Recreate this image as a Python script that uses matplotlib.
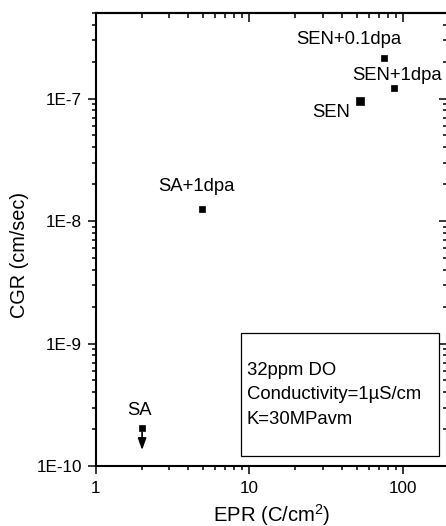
import numpy as np
import matplotlib
matplotlib.use("Agg")
import matplotlib.pyplot as plt
from matplotlib.ticker import LogLocator, FuncFormatter, NullFormatter
from matplotlib.patches import Rectangle

plt.rcParams['font.family'] = ['Liberation Sans', 'DejaVu Sans']
plt.rcParams['mathtext.fontset'] = 'custom'
plt.rcParams['mathtext.rm'] = 'Liberation Sans'

# data
labels = ["SA", "SA+1dpa", "SEN", "SEN+0.1dpa", "SEN+1dpa"]
epr = [2.01, 4.96, 52.3, 75.5, 87.8]          # C/cm^2
cgr = [2.04e-10, 1.245e-8, 9.6e-8, 2.14e-7, 1.23e-7]  # cm/sec
upper_limit = [True, False, False, False, False]

# label placement relative to each point (pixels)
label_offsets = [(-2.5, 18), (-6, 23), (-28, -11.5), (-35, 19), (3, 12)]
marker_sizes = [5, 5, 6.3, 5, 5]

W, H = 446, 526
fig = plt.figure(figsize=(W / 100, H / 100), dpi=100)

# axes box in pixels (right spine sits just past the image edge)
left, right, top, bottom = 95.5, 447.5, 13, 466
ax = fig.add_axes([left / W, 1 - bottom / H, (right - left) / W, (bottom - top) / H])
ax.set_xscale('log')
ax.set_yscale('log')
ax.set_xlim(1, 195)
ax.set_ylim(1e-10, 5e-7)

for x, y, ms in zip(epr, cgr, marker_sizes):
    ax.plot(x, y, 's', color='black', ms=ms, mec='black', mew=0.5, zorder=5)

for x, y, lab, (dx, dy), lim in zip(epr, cgr, labels, label_offsets, upper_limit):
    ax.annotate(lab, xy=(x, y), xytext=(dx, dy), textcoords='offset pixels',
                ha='center', va='center', fontsize=13.3)
    if lim:
        ax.annotate('', xy=(x, y), xytext=(0, -22), textcoords='offset pixels',
                    arrowprops=dict(arrowstyle='<|-,head_length=0.7,head_width=0.25',
                                    color='black', lw=1.2, shrinkA=0, shrinkB=3))

# condition box
ax.add_patch(Rectangle((0.412, 0.022), 0.563, 0.272, transform=ax.transAxes,
                       fill=False, edgecolor='black', lw=0.9, zorder=4))
ax.text(0.429, 0.157, "32ppm DO\nConductivity=1\u00b5S/cm\nK=30MPavm",
        transform=ax.transAxes, ha='left', va='center', fontsize=13.3,
        linespacing=1.55)

# ticks: outward on bottom/left, inward mirrored on top/right
for a in (ax.xaxis, ax.yaxis):
    a.set_major_locator(LogLocator(base=10))
    a.set_minor_locator(LogLocator(base=10, subs=np.arange(2, 10)))
    a.set_minor_formatter(NullFormatter())
ax.xaxis.set_major_formatter(FuncFormatter(lambda v, p: f"{v:g}"))
ax.yaxis.set_major_formatter(FuncFormatter(lambda v, p: f"1E{int(round(np.log10(v)))}"))
ax.tick_params(which='both', direction='out', width=1.1, labelsize=12.3, top=False, right=False)
ax.tick_params(which='major', length=5.8, pad=4)
ax.tick_params(axis='x', which='major', pad=5)
ax.tick_params(which='minor', length=3)

sec_x = ax.secondary_xaxis('top')
sec_y = ax.secondary_yaxis('right')
for s, a in ((sec_x, sec_x.xaxis), (sec_y, sec_y.yaxis)):
    a.set_major_locator(LogLocator(base=10))
    a.set_minor_locator(LogLocator(base=10, subs=np.arange(2, 10)))
    a.set_major_formatter(NullFormatter())
    a.set_minor_formatter(NullFormatter())
    s.tick_params(which='both', direction='in', width=1.1)
    s.tick_params(which='major', length=6.5)
    s.tick_params(which='minor', length=3.5)
    for sp in s.spines.values():
        sp.set_linewidth(1.5)

for sp in ax.spines.values():
    sp.set_linewidth(1.5)

fig.text(272 / W, 1 - 515 / H, "EPR (C/cm$^2$)", ha='center', va='center', fontsize=14.6)
fig.text(19.5 / W, 1 - 254.5 / H, "CGR (cm/sec)", ha='center', va='center',
         rotation=90, fontsize=14.3)

fig.savefig("out.png", dpi=100)
